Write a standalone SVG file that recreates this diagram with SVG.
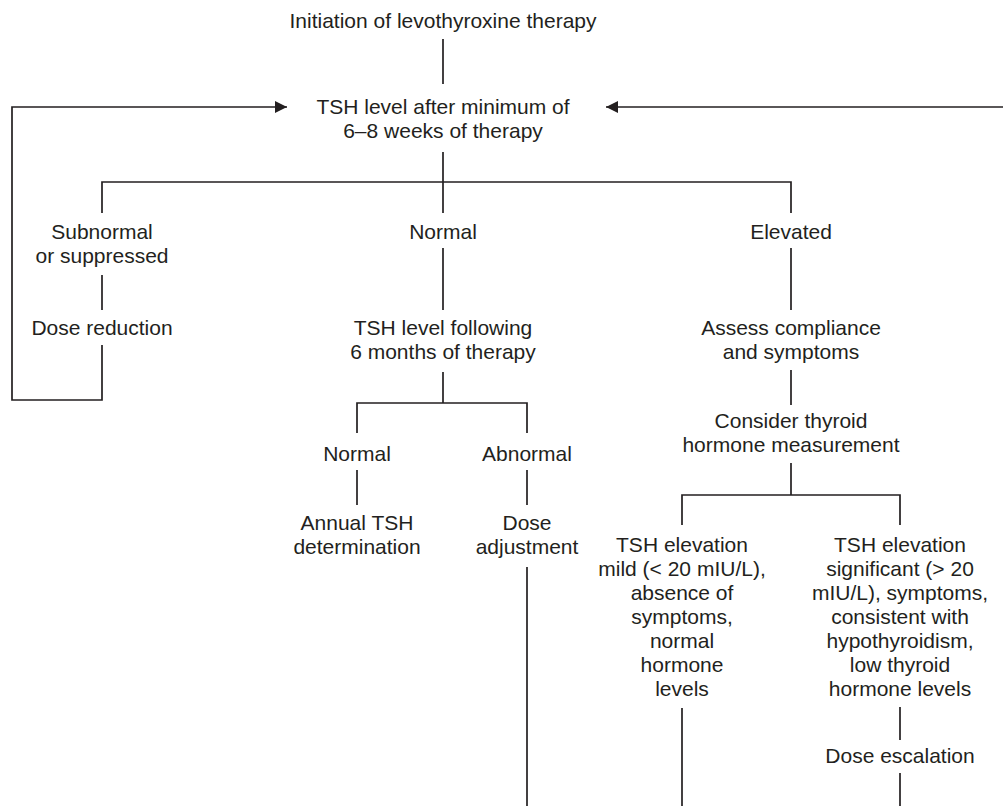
<svg xmlns="http://www.w3.org/2000/svg" width="1003" height="806" viewBox="0 0 1003 806">
<style>
text{font-family:"Liberation Sans",Arial,Helvetica,sans-serif;font-size:21px;fill:#231f20;text-anchor:middle}
.c line,.c polyline{stroke:#231f20;stroke-width:1.7;fill:none}
</style>
<defs>
<marker id="ah" markerUnits="userSpaceOnUse" markerWidth="14" markerHeight="14" viewBox="0 0 14 14" refX="13" refY="7" orient="auto">
<path d="M1,1 L13,7 L1,13 Z" fill="#231f20"/>
</marker>
</defs>
<rect width="1003" height="806" fill="#fff"/>
<g class="c" id="connectors">
<line x1="443" y1="39" x2="443" y2="84"/>
<polyline points="102,345 102,400 12,400 12,107 287,107" marker-end="url(#ah)"/>
<line x1="1003" y1="107" x2="606" y2="107" marker-end="url(#ah)"/>
<line x1="443" y1="152" x2="443" y2="213"/>
<polyline points="102,213 102,182 791,182 791,213"/>
<line x1="102" y1="275" x2="102" y2="310"/>
<line x1="443" y1="248" x2="443" y2="310"/>
<line x1="443" y1="372" x2="443" y2="403"/>
<polyline points="357,433 357,403 527,403 527,433"/>
<line x1="357" y1="470" x2="357" y2="505"/>
<line x1="527" y1="470" x2="527" y2="505"/>
<line x1="527" y1="567" x2="527" y2="806"/>
<line x1="791" y1="248" x2="791" y2="310"/>
<line x1="791" y1="370" x2="791" y2="405"/>
<line x1="791" y1="463" x2="791" y2="495"/>
<polyline points="682,525 682,495 900,495 900,525"/>
<line x1="682" y1="708" x2="682" y2="806"/>
<line x1="900" y1="707" x2="900" y2="740"/>
<line x1="900" y1="773" x2="900" y2="806"/>
</g>
<g id="n-init"><text x="443" y="28">Initiation of levothyroxine therapy</text></g>
<g id="n-tsh1"><text x="443" y="114">TSH level after minimum of</text><text x="443" y="138">6–8 weeks of therapy</text></g>
<g id="n-subnormal"><text x="102" y="239">Subnormal</text><text x="102" y="263">or suppressed</text></g>
<g id="n-normal"><text x="443" y="239">Normal</text></g>
<g id="n-elevated"><text x="791" y="239">Elevated</text></g>
<g id="n-dosered"><text x="102" y="335">Dose reduction</text></g>
<g id="n-tsh6"><text x="443" y="335">TSH level following</text><text x="443" y="359">6 months of therapy</text></g>
<g id="n-assess"><text x="791" y="335">Assess compliance</text><text x="791" y="359">and symptoms</text></g>
<g id="n-consider"><text x="791" y="428">Consider thyroid</text><text x="791" y="452">hormone measurement</text></g>
<g id="n-normal2"><text x="357" y="461">Normal</text></g>
<g id="n-abnormal"><text x="527" y="461">Abnormal</text></g>
<g id="n-annual"><text x="357" y="530">Annual TSH</text><text x="357" y="554">determination</text></g>
<g id="n-doseadj"><text x="527" y="530">Dose</text><text x="527" y="554">adjustment</text></g>
<g id="n-mild"><text x="682" y="552">TSH elevation</text><text x="682" y="576">mild (&lt; 20 mIU/L),</text><text x="682" y="600">absence of</text><text x="682" y="624">symptoms,</text><text x="682" y="648">normal</text><text x="682" y="672">hormone</text><text x="682" y="696">levels</text></g>
<g id="n-significant"><text x="900" y="552">TSH elevation</text><text x="900" y="576">significant (&gt; 20</text><text x="900" y="600">mIU/L), symptoms,</text><text x="900" y="624">consistent with</text><text x="900" y="648">hypothyroidism,</text><text x="900" y="672">low thyroid</text><text x="900" y="696">hormone levels</text></g>
<g id="n-escalation"><text x="900" y="763">Dose escalation</text></g>
</svg>
